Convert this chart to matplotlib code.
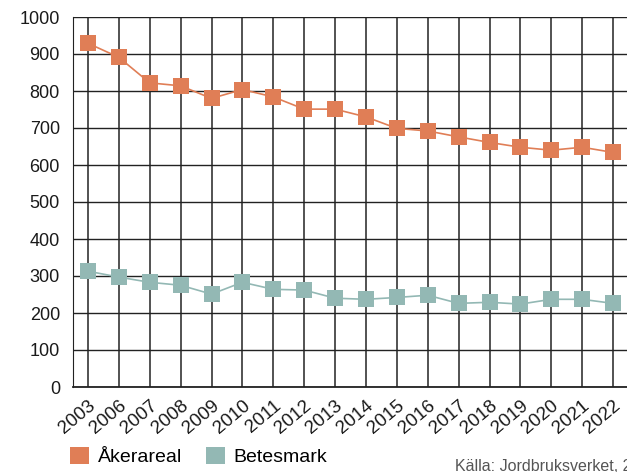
import numpy as np
import matplotlib.pyplot as plt
from matplotlib.patches import Patch

plt.rcParams['font.family'] = ['Liberation Sans', 'DejaVu Sans']

years = ['2003', '2006', '2007', '2008', '2009', '2010', '2011', '2012', '2013',
         '2014', '2015', '2016', '2017', '2018', '2019', '2020', '2021', '2022']
akerareal = [929, 891, 822, 814, 780, 804, 784, 751, 751,
             730, 699, 692, 676, 661, 648, 640, 648, 634]
betesmark = [313, 297, 283, 275, 251, 283, 264, 262, 240,
             237, 242, 248, 226, 229, 224, 237, 237, 226]

ORANGE = '#E07E56'
TEAL = '#93B8B4'

fig = plt.figure(figsize=(6.27, 4.72), dpi=100)
ax = fig.add_axes([72.5 / 627, 85 / 472, 556 / 627, 370 / 472])

x = np.arange(len(years))
ax.plot(x, akerareal, color=ORANGE, lw=1.2, marker='s', markersize=11.5,
        markeredgewidth=0, zorder=3)
ax.plot(x, betesmark, color=TEAL, lw=1.2, marker='s', markersize=11.5,
        markeredgewidth=0, zorder=3)

ax.set_xlim(-0.5, len(years) - 0.5)
ax.set_ylim(0, 1000)
ax.set_yticks(np.arange(0, 1001, 100))
ax.set_xticks(x)
ax.set_xticklabels(years, rotation=40, ha='right', va='top', rotation_mode='anchor')
ax.tick_params(axis='both', length=0, labelsize=13, colors='#1a1a1a')
ax.tick_params(axis='x', pad=7, labelsize=13.5)
ax.tick_params(axis='y', pad=9)

ax.grid(axis='y', color='#222222', lw=1.0)
ax.grid(axis='x', color='#444444', lw=1.3)
ax.set_axisbelow(True)
for side in ['top', 'right']:
    ax.spines[side].set_visible(False)
ax.spines['left'].set_color('#222222')
ax.spines['bottom'].set_color('#222222')
ax.spines['bottom'].set_linewidth(1.3)

# legend below the chart, square swatches
handles = [Patch(facecolor=ORANGE, edgecolor='none'),
           Patch(facecolor=TEAL, edgecolor='none')]
fig.legend(handles, ['Åkerareal', 'Betesmark'], loc='lower left',
           bbox_to_anchor=(0.099, -0.004), ncol=2, frameon=False,
           fontsize=14, handlelength=1.0, handleheight=1.0,
           handletextpad=0.45, columnspacing=1.2, borderaxespad=0)

fig.text(455 / 627, -0.004, 'Källa: Jordbruksverket, 2022', fontsize=11.5,
         color='#555555', ha='left', va='bottom')

fig.savefig('out.png', dpi=100)
